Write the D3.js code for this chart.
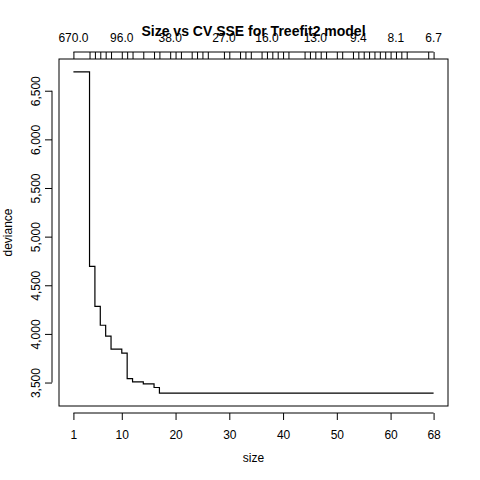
<!DOCTYPE html>
<html>
<head>
<meta charset="utf-8">
<script src="https://cdn.jsdelivr.net/npm/d3@7"></script>
<style>
  body { margin: 0; background: #fff; }
  text { font-family: "Liberation Sans", Arial, sans-serif; }
</style>
</head>
<body>
<div id="chart"></div>
<script>
// Tree sizes in the pruning sequence and their CV deviance
const sizes = [1, 4, 5, 6, 7, 8, 10, 11, 12, 14, 16, 17, 19, 20, 21, 23, 24, 25, 26, 29, 30, 32, 33, 34,
    36, 37, 38, 39, 40, 41, 44, 45, 46, 47, 48, 50, 51, 53, 54, 55, 56, 57, 58, 59, 60, 61, 62, 63, 67, 68];
const deviance = [6694, 4694, 4283, 4089, 3977, 3844, 3803, 3541, 3507, 3487, 3449, 3391, 3391, 3391,
    3391, 3391, 3391, 3391, 3391, 3391, 3391, 3391, 3391, 3391, 3391, 3391, 3391, 3391, 3391, 3391,
    3391, 3391, 3391, 3391, 3391, 3391, 3391, 3391, 3391, 3391, 3391, 3391, 3391, 3391, 3391, 3391,
    3391, 3391, 3391, 3391];
// k (cost-complexity) labels that R managed to print on the top axis
const kLabelSizes = [1, 10, 19, 29, 37, 46, 54, 61, 68];
const kLabels = ["670.0", "96.0", "38.0", "27.0", "16.0", "13.0", "9.4", "8.1", "6.7"];
const xTicks = [1, 10, 20, 30, 40, 50, 60, 68];
const yTicks = [3500, 4000, 4500, 5000, 5500, 6000, 6500];

const W = 480, H = 480;
const box = { left: 59, right: 448, top: 59, bottom: 406 };

const svg = d3.select("#chart").append("svg")
    .attr("width", W).attr("height", H);

// R style 4% padding on both axes
const xPad = (68 - 1) * 0.04;
const x = d3.scaleLinear().domain([1 - xPad, 68 + xPad]).range([box.left, box.right]);
const yMin = d3.min(deviance), yMax = d3.max(deviance);
const yPad = (yMax - yMin) * 0.04;
const y = d3.scaleLinear().domain([yMin - yPad, yMax + yPad]).range([box.bottom, box.top]);

svg.append("rect")
    .attr("x", box.left).attr("y", box.top)
    .attr("width", box.right - box.left).attr("height", box.bottom - box.top)
    .attr("fill", "none").attr("stroke", "#000");

const pts = sizes.map((s, i) => [s, deviance[i]]);
svg.append("path")
    .datum(pts)
    .attr("fill", "none")
    .attr("stroke", "#000")
    .attr("stroke-width", 1.2)
    .attr("d", d3.line().curve(d3.curveStepAfter).x(d => x(d[0])).y(d => y(d[1])));

// bottom axis
const bottomAxis = svg.append("g").attr("transform", `translate(0,${box.bottom + 7})`)
    .call(d3.axisBottom(x).tickValues(xTicks).tickSize(7).tickSizeOuter(0).tickFormat(d3.format("d")));
bottomAxis.select(".domain").attr("d", `M${x(1)},0H${x(68)}`);
bottomAxis.selectAll("text").attr("y", 17).style("font-size", "12px").attr("fill", "#000");

// left axis
const leftAxis = svg.append("g").attr("transform", `translate(${box.left - 7},0)`)
    .call(d3.axisLeft(y).tickValues(yTicks).tickSize(7).tickSizeOuter(0));
leftAxis.select(".domain").attr("d", `M0,${y(3500)}V${y(6500)}`);
leftAxis.selectAll(".tick text")
    .attr("x", 0).attr("dy", 0)
    .attr("transform", "translate(-12,0) rotate(-90)")
    .attr("text-anchor", "middle")
    .style("font-size", "12px").attr("fill", "#000");

// top axis: one tick per tree size
const topAxis = svg.append("g").attr("transform", `translate(0,${box.top - 7})`)
    .call(d3.axisTop(x).tickValues(sizes).tickSize(7).tickSizeOuter(0).tickFormat(""));
topAxis.select(".domain").attr("d", `M${x(1)},0H${x(68)}`);
topAxis.selectAll(".tick line").attr("y1", 0).attr("y2", 7);

svg.append("g").selectAll("text")
    .data(kLabelSizes)
    .join("text")
    .attr("x", d => x(d))
    .attr("y", box.top - 17)
    .attr("text-anchor", "middle")
    .style("font-size", "12px")
    .text((d, i) => kLabels[i]);

svg.append("text")
    .attr("x", (box.left + box.right) / 2).attr("y", 36)
    .attr("text-anchor", "middle")
    .style("font-size", "14px").style("font-weight", "bold")
    .text("Size vs CV SSE for Treefit2 model");

svg.append("text")
    .attr("x", (box.left + box.right) / 2).attr("y", 462)
    .attr("text-anchor", "middle").style("font-size", "12px")
    .text("size");

svg.append("text")
    .attr("transform", `translate(12,${(box.top + box.bottom) / 2}) rotate(-90)`)
    .attr("text-anchor", "middle").style("font-size", "12px")
    .text("deviance");
</script>
</body>
</html>
